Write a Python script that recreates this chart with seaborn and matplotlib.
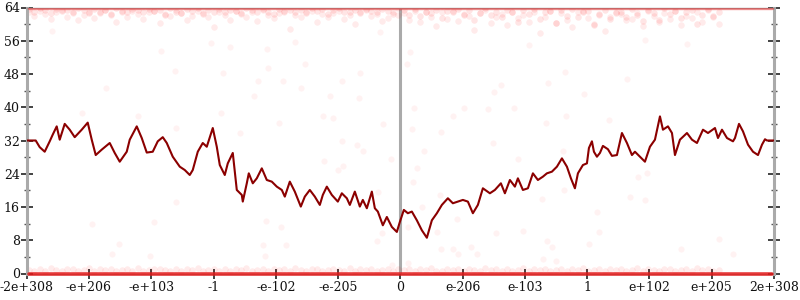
import matplotlib
matplotlib.use("Agg")
import matplotlib.pyplot as plt
import seaborn as sns
import pandas as pd
from matplotlib.ticker import MultipleLocator

sns.set_style("white")
plt.rcParams["font.family"] = ["DejaVu Serif"]

# ---------------- data ----------------
# x is the sample rank along the ordered input axis (0 .. 747)
x_max = 747
tick_labels = ["-2e+308", "-e+206", "-e+103", "-1", "-e-102", "-e-205", "0",
               "e-206", "e-103", "1", "e+102", "e+205", "2e+308"]

line_x = [0, 9, 13, 18, 23, 26, 30, 33, 38, 43, 48, 55, 61, 65, 69, 75, 83, 88, 93, 100,
          103, 110, 115, 120, 126, 131, 136, 140, 146, 153, 158, 163, 166, 171, 176, 180, 186, 190, 193,
          198, 201, 206, 210, 215, 216, 220, 222, 226, 230, 235, 240, 245, 250, 255, 258, 263, 268,
          274, 278, 283, 288, 293, 296, 300, 305, 311, 315, 320, 323, 328, 333, 336, 340, 345, 348,
          351, 356, 360, 365, 370,
          373, 377, 381, 385, 390, 395, 400, 405, 410, 415, 421, 426, 431, 436, 441, 446, 451, 456,
          463, 468, 474, 478, 483, 488, 491, 496, 501, 506, 511, 516, 520, 525, 530, 535, 540, 544,
          548, 551, 556, 560, 562, 565, 567,
          570, 573, 576, 581, 585, 590, 595, 600, 605, 608, 613, 618, 623, 628, 633, 636, 641, 645,
          648, 653, 660, 665, 670, 676, 681, 688, 691, 695, 700, 706, 708, 712, 716, 721, 726, 731,
          735, 738, 740, 747]
line_y = [32.0, 32.0, 30.4, 29.3, 31.8, 33.4, 35.4, 32.2, 36.0, 34.6, 32.8, 34.6, 36.3, 32.2, 28.5, 29.8, 31.4, 29.0, 26.9, 29.3,
          32.2, 35.4, 32.6, 29.1, 29.3, 31.8, 32.8, 31.4, 28.1, 25.7, 24.9, 23.7, 24.9, 29.3, 31.4, 30.5, 35.0, 30.5, 26.1,
          23.7, 26.5, 29.0, 20.1, 18.9, 17.3, 21.7, 24.1, 21.7, 22.9, 25.3, 22.5, 22.1, 20.9, 20.1, 18.5, 22.1, 19.7,
          16.1, 18.5, 20.1, 18.5, 16.5, 18.9, 20.9, 18.9, 17.3, 19.3, 18.1, 16.5, 19.7, 16.1, 17.7, 15.7, 19.7, 15.7,
          14.9, 11.6, 13.6, 11.2, 10.0,
          12.4, 15.3, 14.5, 14.9, 12.8, 10.4, 8.6, 12.8, 14.5, 16.5, 18.1, 16.9, 17.3, 17.7, 17.3, 14.5, 16.5, 20.5,
          19.3, 20.1, 21.7, 19.3, 22.5, 20.9, 22.9, 20.1, 20.5, 24.1, 22.5, 23.3, 24.1, 24.5, 25.7, 27.7, 25.7, 22.9,
          20.5, 24.1, 26.1, 26.5, 30.2, 31.8, 29.3,
          28.1, 29.0, 30.7, 29.9, 28.3, 28.5, 33.8, 31.4, 28.5, 29.3, 28.1, 26.9, 30.5, 32.2, 37.8, 34.6, 35.4, 33.8,
          28.5, 32.2, 33.8, 32.2, 31.4, 34.6, 33.8, 35.0, 32.6, 34.6, 32.6, 31.8, 32.6, 36.0, 34.2, 31.0, 29.3, 28.5,
          31.0, 32.3, 32.0, 32.0]

# sample ranks shared by the dense bands near 64 and near 0
band_x = [2, 7, 13, 18, 24, 29, 35, 40, 46, 51, 57, 62, 67, 73, 78, 84, 89, 95, 100, 105,
          111, 116, 122, 127, 133, 138, 143, 149, 154, 160, 165, 171, 176, 181, 187, 192, 198, 203, 209, 214,
          219, 225, 230, 236, 241, 247, 252, 257, 263, 268, 274, 279, 285, 290, 295, 301, 306, 312, 317, 323,
          328, 333, 339, 344, 350, 355, 361, 366, 371,
          377, 382, 388, 393, 399, 404, 409, 415, 420, 426, 431, 437, 442, 447, 453, 458, 464, 469, 475, 480,
          485, 491, 496, 502, 507, 513, 518, 523, 529, 534, 540, 545, 551, 556, 561, 567, 572, 578, 583, 589,
          594, 599, 605, 610, 616, 621, 627, 632, 637, 643, 648, 654, 659, 665, 670, 675, 681, 686, 692, 697,
          703, 708, 713, 719, 724, 730, 735, 741, 745]
top_y1 = [62.8, 61.9, 63.1, 62.4, 61.2, 62.9, 63.3, 61.7, 62.6, 60.9,
          62.2, 63.0, 61.5, 62.7, 63.4, 62.1, 60.6, 62.9, 61.8, 63.2,
          62.5, 61.3, 62.8, 63.1, 60.2, 62.4, 61.9, 63.3, 62.6, 61.1,
          62.0, 63.2, 62.7, 61.6, 59.4, 62.9, 62.3, 61.0, 63.1, 62.5,
          61.7, 62.8, 60.8, 63.3, 62.2, 61.4, 62.6, 63.0, 58.9, 62.1,
          61.8, 62.9, 63.2, 60.5, 62.4, 61.6, 62.7, 63.1, 61.2, 62.3,
          60.1, 62.8, 63.3, 61.9, 62.5, 60.7, 61.4, 63.0, 62.2,
          62.6, 61.1, 63.2, 60.4, 62.8, 61.7, 59.6, 62.9, 61.3, 63.1,
          60.8, 62.4, 61.9, 58.7, 62.7, 63.3, 60.2, 61.6, 62.5, 59.9,
          63.0, 61.4, 62.2, 60.6, 62.9, 57.8, 61.8, 63.2, 60.3, 62.6,
          61.0, 59.2, 62.8, 63.1, 61.5, 60.0, 62.3, 58.4, 61.7, 63.0,
          62.4, 60.9, 61.3, 62.7, 59.5, 63.2, 61.9, 60.4, 62.6, 61.2,
          63.1, 59.8, 62.0, 61.5, 62.8, 60.6, 63.3, 61.8, 60.1]
top_y2 = [63.6, 62.9, 63.8, 63.4, 62.7, 63.7, 63.1, 63.5, 62.8, 63.9,
          63.3, 62.6, 63.7, 63.0, 63.5, 62.4, 63.8, 63.2, 62.9, 63.6,
          63.4, 62.8, 63.7, 63.1, 63.5, 62.3, 63.9, 63.0, 62.7, 63.6,
          63.2, 63.8, 62.5, 63.4, 63.0, 63.7, 62.9, 63.5, 63.1, 62.6,
          63.8, 63.3, 62.8, 63.6, 63.0, 62.4, 63.7, 63.2, 63.5, 62.9,
          63.4, 62.7, 63.8, 63.1, 63.6, 62.5, 63.3, 63.9, 62.8, 63.0,
          63.5, 62.6, 63.7, 63.2, 62.9, 63.6, 63.1, 62.4, 63.8,
          63.3, 62.2, 63.6, 61.9, 63.0, 62.7, 63.5, 61.5, 63.2, 62.8,
          63.7, 62.1, 63.4, 60.9, 62.6, 63.8, 62.3, 63.0, 61.7, 63.5,
          62.9, 60.5, 63.3, 62.4, 63.6, 61.2, 62.8, 63.1, 60.2, 63.4,
          62.0, 63.7, 61.6, 62.9, 63.2, 59.7, 62.5, 63.5, 61.3, 62.7,
          63.0, 61.8, 63.6, 62.2, 60.7, 63.3, 62.6, 61.1, 63.8, 62.4,
          63.1, 61.4, 62.8, 63.5, 60.0, 62.3, 63.7, 61.9, 62.9]
bottom_y = [0.9, 0.6, 1.1, 0.7, 1.3, 0.8, 0.5, 1.0, 1.2, 0.7,
            0.9, 1.4, 0.6, 1.0, 0.8, 1.2, 0.5, 0.9, 1.1, 0.7,
            1.3, 0.6, 0.8, 1.0, 1.2, 0.9, 0.5, 1.1, 0.7, 1.0,
            0.8, 1.3, 0.6, 0.9, 1.2, 0.7, 1.0, 0.5, 1.1, 0.8,
            1.4, 0.7, 0.9, 1.2, 0.6, 1.0, 0.8, 1.1, 0.5, 1.3,
            0.9, 0.7, 1.0, 1.2, 0.6, 0.8, 1.1, 0.9, 0.7, 1.3,
            0.6, 1.0, 0.8, 1.2, 0.5, 0.9, 1.1, 0.7, 1.0,
            0.8, 1.2, 0.6, 1.0, 0.9, 1.3, 0.7, 0.5, 1.1, 0.8,
            1.0, 0.6, 1.2, 0.9, 0.7, 1.4, 0.8, 1.0, 0.5, 1.1,
            0.7, 0.9, 1.3, 0.6, 1.0, 0.8, 1.2, 0.7, 0.9, 1.1,
            0.5, 1.0, 0.8, 1.3, 0.6, 0.9, 1.1, 0.7, 1.2, 0.8,
            1.0, 0.6, 0.9, 1.4, 0.7, 1.1, 0.8, 0.5, 1.0, 1.2,
            0.7, 0.9, 1.1, 0.6, 1.3, 0.8, 1.0, 0.7, 0.9]

# sparse samples in the middle of the range
mid_x = [25, 134, 148, 79, 55, 111, 149, 184, 196, 194, 203, 213, 227, 231, 240, 241, 252, 256, 268, 274,
         278, 296, 303, 306, 315, 315, 330, 332, 333, 356, 353,
         65, 127, 149, 92, 85, 123, 239, 254, 236, 238, 259, 350, 355, 365, 297, 336, 364, 351, 311, 316,
         397, 390, 386, 395, 381, 381, 414, 426, 431, 444, 450, 430, 410, 413, 469, 496, 515, 520, 525, 516,
         529, 537, 562, 570, 572, 603, 611, 618, 620, 654, 692, 706, 491, 536,
         383, 380, 387, 385, 414, 426, 437, 461, 467, 474, 487, 521, 538, 519, 539, 557, 582, 600, 466, 660,
         618, 502]
mid_y = [58.4, 53.6, 48.8, 44.7, 38.7, 38.0, 35.1, 55.5, 48.3, 38.7, 54.6, 33.9, 42.6, 46.4, 54.1, 49.5, 36.3, 46.4, 55.8, 44.7,
         50.5, 38.0, 42.6, 37.5, 31.8, 46.4, 30.8, 42.3, 48.3, 36.0, 58.1,
         11.8, 12.5, 17.1, 7.0, 4.6, 4.1, 12.7, 11.1, 6.8, 4.3, 6.8, 7.7, 9.8, 2.1, 27.0, 29.4, 27.5, 19.5, 25.0, 25.9,
         29.4, 25.3, 21.9, 15.9, 11.1, 2.6, 5.8, 5.8, 4.6, 6.3, 4.6, 13.0, 10.1, 18.8, 9.8, 10.3, 18.0, 7.7, 6.3, 3.4,
         2.9, 20.0, 7.2, 14.7, 10.1, 18.3, 23.3, 17.8, 24.3, 6.0, 8.2, 4.8, 27.5, 29.4,
         53.2, 50.3, 39.7, 34.7, 34.0, 38.0, 39.7, 39.5, 43.6, 45.3, 39.7, 45.9, 48.6, 36.3, 38.0, 43.3, 37.0, 46.7, 31.5, 55.3,
         56.3, 54.9]

# ---------------- figure ----------------
W, H = 800, 300
fig = plt.figure(figsize=(8, 3), dpi=100)
left, right, bottom, top = 26.7, 774.0, 273.5, 7.5
ax = fig.add_axes([left / W, 1 - bottom / H, (right - left) / W, (bottom - top) / H])

df_line = pd.DataFrame({"x": line_x, "y": line_y})
n = min(len(band_x), len(top_y1), len(top_y2), len(bottom_y))
df_t1 = pd.DataFrame({"x": band_x[:n], "y": top_y1[:n]})
df_t2 = pd.DataFrame({"x": band_x[:n], "y": top_y2[:n]})
df_b = pd.DataFrame({"x": band_x[:n], "y": bottom_y[:n]})
df_top_row = pd.DataFrame({"x": band_x, "y": [64.0] * len(band_x)})
df_bot_row = pd.DataFrame({"x": band_x, "y": [0.0] * len(band_x)})
m = min(len(mid_x), len(mid_y))
df_mid = pd.DataFrame({"x": mid_x[:m], "y": mid_y[:m]})

spine_col = "#aaaaaa"
ax.axvline(x_max / 2, color=spine_col, lw=2.2, zorder=1)

pt = dict(color="#ff0000", linewidth=0, legend=False, ax=ax)
sns.scatterplot(data=df_t1, x="x", y="y", alpha=0.08, s=22, zorder=2, **pt)
sns.scatterplot(data=df_t2, x="x", y="y", alpha=0.10, s=22, zorder=2, **pt)
sns.scatterplot(data=df_b, x="x", y="y", alpha=0.08, s=22, zorder=2, **pt)
sns.scatterplot(data=df_mid, x="x", y="y", alpha=0.05, s=20, zorder=2, **pt)

# the many samples sitting exactly at 64 and at 0 merge into solid rows
sns.lineplot(data=df_top_row, x="x", y="y", color="#f03c3c", lw=2.4, alpha=0.55,
             ax=ax, estimator=None, sort=False, zorder=3)
sns.lineplot(data=df_bot_row, x="x", y="y", color="#e41a1a", lw=2.6, alpha=0.85,
             ax=ax, estimator=None, sort=False, zorder=3, clip_on=False)

sns.lineplot(data=df_line, x="x", y="y", color="#8b0000", lw=1.5, ax=ax,
             estimator=None, sort=False, zorder=4)

ax.set_xlim(0, x_max)
ax.set_ylim(0, 64)
ax.set_xlabel("")
ax.set_ylabel("")

ax.set_xticks([x_max * i / 12 for i in range(13)])
ax.set_xticklabels(tick_labels)
ax.yaxis.set_major_locator(MultipleLocator(8))
ax.yaxis.set_minor_locator(MultipleLocator(4))

for s in ["left", "right"]:
    ax.spines[s].set_color(spine_col)
    ax.spines[s].set_linewidth(2.2)
ax.spines["top"].set_color("#999999")
ax.spines["top"].set_linewidth(1.0)
ax.spines["bottom"].set_color("#999999")
ax.spines["bottom"].set_linewidth(1.0)
ax.spines["bottom"].set_zorder(0)

ax.tick_params(axis="y", which="major", direction="inout", length=8, width=1.2,
               color="#222222", left=True, right=True, labelright=False, labelsize=9, pad=1)
ax.tick_params(axis="y", which="minor", direction="inout", length=4.5, width=1.0,
               color="#555555", left=True, right=True)
ax.tick_params(axis="x", which="major", direction="inout", length=7.5, width=1.2,
               color="#222222", bottom=True, labelsize=9, pad=2)
for lab in ax.get_xticklabels() + ax.get_yticklabels():
    lab.set_color("#111111")

# centre axis (x = 0) with its own ticks
cx = (left + (right - left) / 2) / W
cax = fig.add_axes([cx, 1 - bottom / H, 1e-4, (bottom - top) / H])
cax.set_ylim(0, 64)
cax.patch.set_visible(False)
for s in ["top", "bottom", "right", "left"]:
    cax.spines[s].set_visible(False)
cax.set_xticks([])
cax.yaxis.set_major_locator(MultipleLocator(8))
cax.yaxis.set_minor_locator(MultipleLocator(4))
cax.tick_params(axis="y", which="major", direction="inout", length=8, width=1.2,
                color="#222222", labelleft=False)
cax.tick_params(axis="y", which="minor", direction="inout", length=4.5, width=1.0,
                color="#555555")

fig.savefig("out.png", dpi=100)
